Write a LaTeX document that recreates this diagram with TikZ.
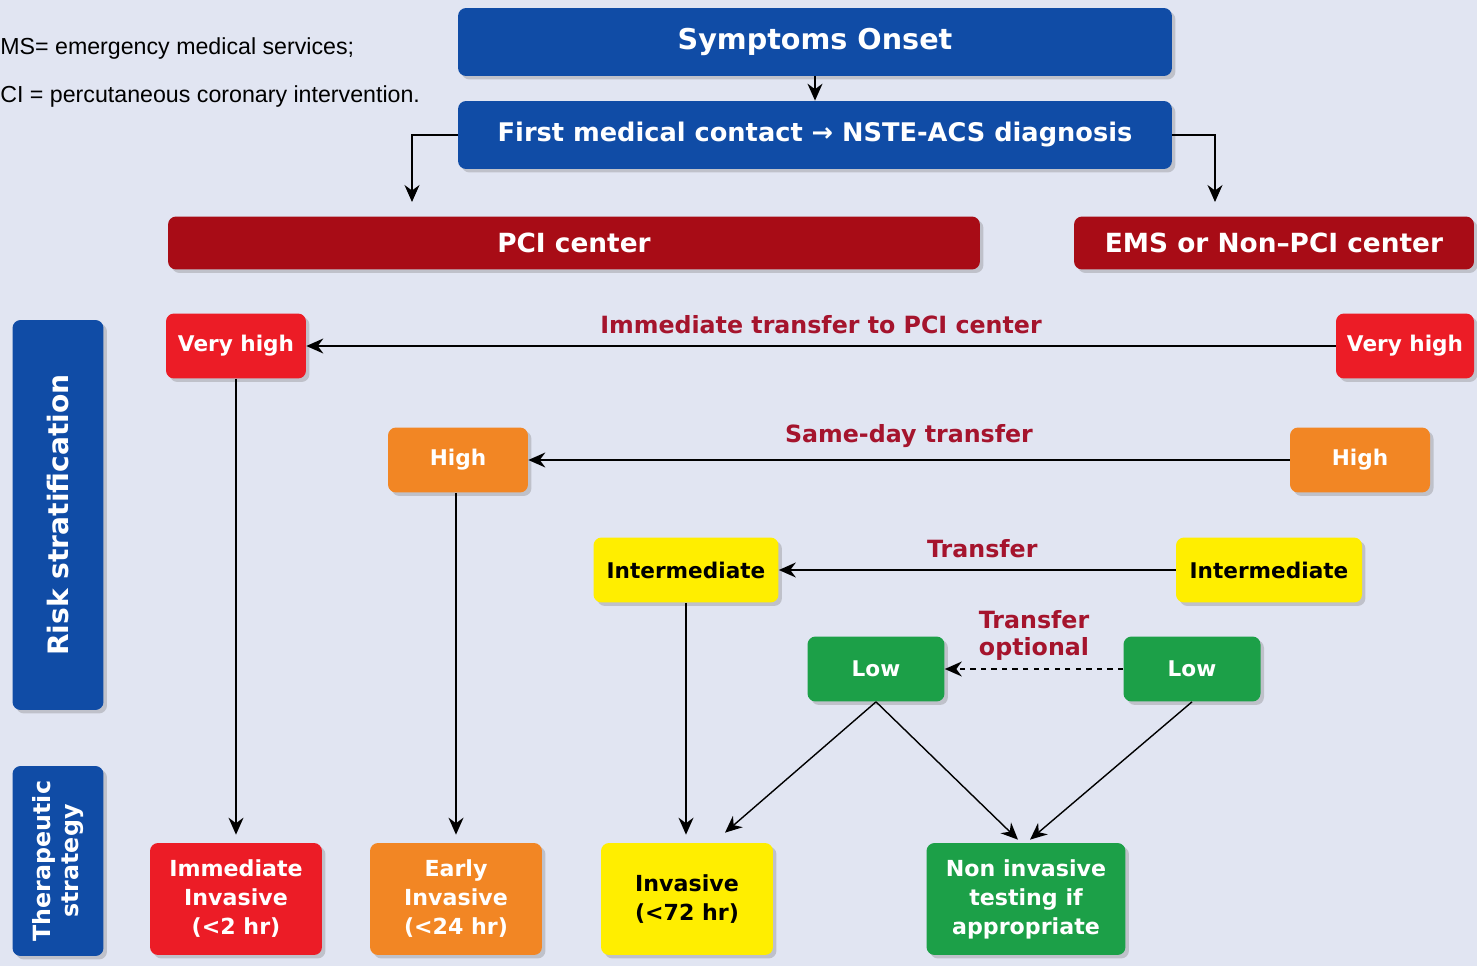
\documentclass[tikz,border=0pt]{standalone}
\usepackage{fontspec}
\setmainfont{DejaVu Sans}
\newfontfamily\notefont{Liberation Sans}
\usetikzlibrary{arrows.meta,shadows,positioning}
\definecolor{bgcol}{RGB}{225,229,242}
\definecolor{escblue}{RGB}{16,76,166}
\definecolor{escdark}{RGB}{168,12,22}
\definecolor{escred}{RGB}{236,28,38}
\definecolor{escorange}{RGB}{242,134,36}
\definecolor{escyellow}{RGB}{255,238,0}
\definecolor{escgreen}{RGB}{28,160,72}
\definecolor{lblred}{RGB}{165,20,45}
\newcommand{\fsz}[2]{\fontsize{#1}{#2}\selectfont}
\begin{document}
\begin{tikzpicture}[x=0.02cm, y=-0.02cm, >={Stealth[length=0.34cm,width=0.3cm]}]
        \tikzstyle{box}=[rounded corners=0.16cm, text=white, align=center, inner sep=0pt, drop shadow={opacity=0.35, shadow xshift=0.07cm, shadow yshift=-0.07cm}];
        \tikzstyle{head}=[box, fill=escblue, minimum width=14.28cm, minimum height=1.36cm];
        \tikzstyle{center}=[box, fill=escdark, minimum height=1.06cm, font=\bfseries\fsz{15}{17}];
        \tikzstyle{side}=[box, fill=escblue, minimum height=1.82cm, rotate=90];
        \tikzstyle{risk}=[box, minimum height=1.3cm, font=\bfseries\fsz{12.3}{14}];
        \tikzstyle{strategy}=[box, minimum width=3.44cm, minimum height=2.24cm, font=\bfseries\fsz{12.6}{16.5}];
        \tikzstyle{lbl}=[text=lblred, font=\bfseries\fsz{13.5}{15.5}, align=center];
        \tikzstyle{line}=[draw, line width=0.8pt, ->];

        % background and bounding box
        \fill[bgcol] (0,0) rectangle (1477,966);
        \useasboundingbox (0,0) rectangle (1477,966);

        % abbreviations
        \node[anchor=west, inner sep=0pt, font=\notefont\fsz{13.2}{15}] (noteems) at (0,49) {MS= emergency medical services;};
        \node[anchor=west, inner sep=0pt, font=\notefont\fsz{13.2}{15}] (notepci) at (0,97) {CI = percutaneous coronary intervention.};

        % top of the pathway
        \node[head, font=\bfseries\fsz{16.3}{19}] (onset) at (815,42) {Symptoms Onset};
        \node[head, font=\bfseries\fsz{14.6}{17}] (fmc) at (815,135) {First medical contact → NSTE-ACS diagnosis};
        \node[center, minimum width=16.24cm] (pci) at (574,243) {PCI center};
        \node[center, minimum width=8.0cm] (ems) at (1274,243) {EMS or Non--PCI center};
        \coordinate (pcitop) at (412,202);
        \coordinate (emstop) at (1215,202);

        % side labels
        \node[side, minimum width=7.8cm, font=\bfseries\fsz{16}{18}] (strat) at (58,515) {Risk stratification};
        \node[side, minimum width=3.8cm, font=\bfseries\fsz{13.5}{16}] (therapy) at (58,861) {Therapeutic\\strategy};

        % risk levels
        \node[risk, fill=escred, minimum width=2.8cm] (vhighL) at (236,346) {Very high};
        \node[risk, fill=escred, minimum width=2.76cm] (vhighR) at (1405,346) {Very high};
        \node[risk, fill=escorange, minimum width=2.8cm] (highL) at (458,460) {High};
        \node[risk, fill=escorange, minimum width=2.8cm] (highR) at (1360,460) {High};
        \node[risk, fill=escyellow, text=black, minimum width=3.7cm] (interL) at (686,570) {Intermediate};
        \node[risk, fill=escyellow, text=black, minimum width=3.72cm] (interR) at (1269,570) {Intermediate};
        \node[risk, fill=escgreen, minimum width=2.74cm] (lowL) at (876,669) {Low};
        \node[risk, fill=escgreen, minimum width=2.74cm] (lowR) at (1192,669) {Low};

        % strategies
        \node[strategy, fill=escred] (immediate) at (236,899) {Immediate\\Invasive\\(<2 hr)};
        \node[strategy, fill=escorange] (early) at (456,899) {Early\\Invasive\\(<24 hr)};
        \node[strategy, fill=escyellow, text=black] (invasive) at (687,899) {Invasive\\(<72 hr)};
        \node[strategy, fill=escgreen, minimum width=3.98cm] (noninv) at (1026,899) {Non invasive\\testing if\\appropriate};

        % connectors
        \draw[line] (onset) -- (fmc);
        \draw[line] (fmc.west) -| (pcitop);
        \draw[line] (fmc.east) -| (emstop);

        \draw[line] (vhighR) -- node[lbl, above=0.12cm] {Immediate transfer to PCI center} (vhighL);
        \draw[line] (highR) -- node[lbl, above=0.12cm] {Same-day transfer} (highL);
        \draw[line] (interR) -- node[lbl, above=0.12cm, xshift=0.1cm] {Transfer} (interL);
        \draw[line, dashed] (lowR) -- node[lbl, above=0.04cm] {Transfer\\optional} (lowL);

        \draw[line, shorten >=0.16cm] (vhighL) -- (immediate);
        \draw[line, shorten >=0.16cm] (highL.south -| early.north) -- (early);
        \draw[line, shorten >=0.16cm] (interL.south) -- (interL.south |- invasive.north);
        \draw[line] (lowL.south) -- ([xshift=0.76cm, yshift=0.2cm]invasive.north);
        \draw[line] (lowL.south) -- ([xshift=-0.16cm, yshift=0.06cm]noninv.north);
        \draw[line] (lowR.south) -- ([xshift=0.08cm, yshift=0.06cm]noninv.north);
\end{tikzpicture}
\end{document}
